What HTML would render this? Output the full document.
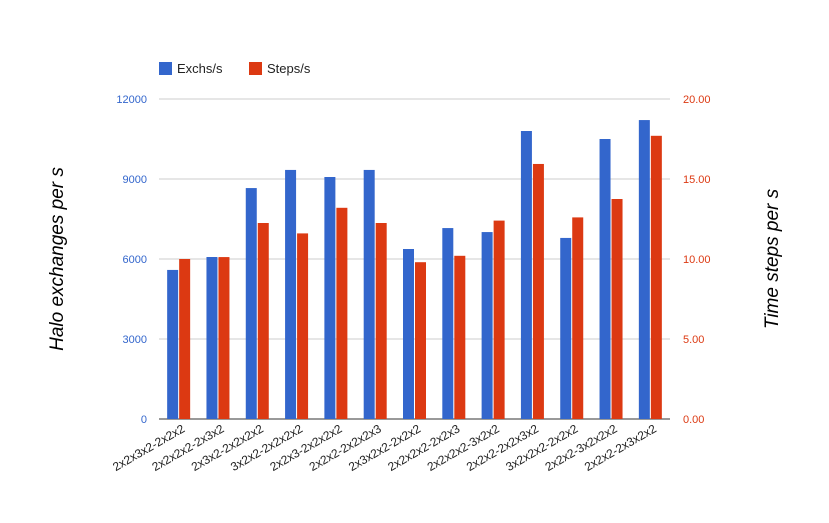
<!DOCTYPE html>
<html><head><meta charset="utf-8"><style>
body{margin:0;background:#fff;font-family:"Liberation Sans",Arial,sans-serif}
</style></head><body>
<svg width="829" height="518" viewBox="0 0 829 518" id="c">
<g id="grid"></g><g id="bars"></g><g id="labels"></g>
<g>
<rect x="159" y="62" width="13" height="13" fill="#3366cc"/>
<text x="177" y="73" font-size="13" fill="#222">Exchs/s</text>
<rect x="249" y="62" width="13" height="13" fill="#dc3912"/>
<text x="267" y="73" font-size="13" fill="#222">Steps/s</text>
</g>
<text transform="translate(63,259) rotate(-90)" text-anchor="middle" font-size="19" font-style="italic" fill="#000">Halo exchanges per s</text>
<text transform="translate(778,259) rotate(-90)" text-anchor="middle" font-size="19" font-style="italic" fill="#000">Time steps per s</text>
</svg>
<script>
const categories=["2x2x3x2-2x2x2","2x2x2x2-2x3x2","2x3x2-2x2x2x2","3x2x2-2x2x2x2","2x2x3-2x2x2x2","2x2x2-2x2x2x3","2x3x2x2-2x2x2","2x2x2x2-2x2x3","2x2x2x2-3x2x2","2x2x2-2x2x3x2","3x2x2x2-2x2x2","2x2x2-3x2x2x2","2x2x2-2x3x2x2"];
const exchs=[5590,6075,8660,9340,9075,9340,6375,7160,7010,10800,6790,10500,11210];
const steps=[10.0,10.12,12.25,11.6,13.2,12.25,9.8,10.2,12.4,15.94,12.6,13.75,17.7];
const leftTicks=[0,3000,6000,9000,12000];
const rightTicks=["0.00","5.00","10.00","15.00","20.00"];
const NS="http://www.w3.org/2000/svg";
const X0=159,X1=670,Y0=419,Y1=99;
const yL=v=>Y0-(v/12000)*(Y0-Y1);
const yR=v=>Y0-(v/20)*(Y0-Y1);
const band=(X1-X0)/categories.length;
const xc=i=>X0+band*(i+0.5);
function mk(tag,attrs,parent){const e=document.createElementNS(NS,tag);for(const k in attrs)e.setAttribute(k,attrs[k]);document.getElementById(parent).appendChild(e);return e;}
leftTicks.forEach((t,i)=>{
 const y=yL(t);
 const l=mk('line',{x1:X0,x2:X1,y1:y,y2:y,stroke:i===0?'#333':'#ccc','stroke-width':1},'grid');
 
 
 const a=mk('text',{x:147,y:y+4,'text-anchor':'end','font-size':11,fill:'#3366cc'},'grid');a.textContent=t;
 
 
 const b=mk('text',{x:683,y:y+4,'text-anchor':'start','font-size':11,fill:'#dc3912'},'grid');b.textContent=rightTicks[i];
 
 
});
categories.forEach((c,i)=>{
 const cx=xc(i);
 const yb=yL(exchs[i]);
 const r1=mk('rect',{x:cx-11.5,y:yb,width:11,height:Y0-yb,fill:'#3366cc'},'bars');
 
 
 const yr=yR(steps[i]);
 const r2=mk('rect',{x:cx+0.5,y:yr,width:11,height:Y0-yr,fill:'#dc3912'},'bars');
 
 
 const t=mk('text',{transform:`translate(${cx+7},${431}) rotate(-30)`,'text-anchor':'end','font-size':12,fill:'#222'},'labels');
 t.textContent=c;
 
 
});
</script>
</body></html>
